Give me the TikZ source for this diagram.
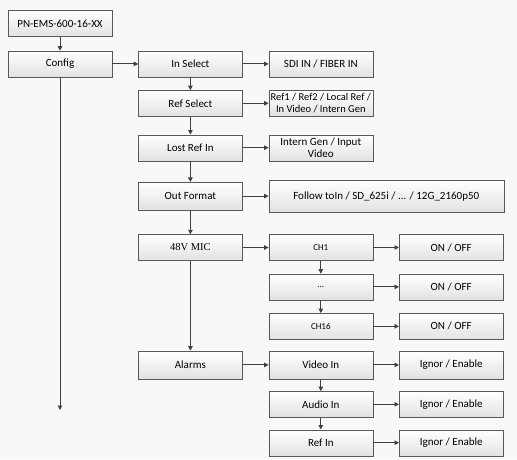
\documentclass[tikz,border=0pt]{standalone}
\usepackage{fontspec}
\setmainfont{Carlito}
\newfontfamily\micfont{Liberation Serif}
\usetikzlibrary{arrows.meta,positioning}
\definecolor{bgGray}{RGB}{248,248,248}
\definecolor{lineGray}{RGB}{64,64,64}
\definecolor{boxEdge}{RGB}{88,88,88}
\definecolor{boxLow}{RGB}{226,226,226}

\begin{document}
\begin{tikzpicture}[
    x=1pt, y=-1pt,
    node distance=13pt and 26pt,
    box/.style  ={rectangle, draw=boxEdge, top color=white, bottom color=boxLow,
                  minimum width=104pt, minimum height=26pt, inner sep=1pt,
                  align=center, font=\fontsize{11}{12}\selectfont},
    wide/.style ={box, minimum width=235pt, minimum height=32pt},
    tall/.style ={minimum height=28pt},
    small/.style={font=\fontsize{9}{11}\selectfont},
    arr/.style  ={-{Triangle[length=4.5pt,width=4.5pt]}, lineGray, line width=0.9pt}
]
\fill[bgGray] (0,0) rectangle (517,459);
\useasboundingbox (0,0) rectangle (517,459);

\node[box] (pn) at (60,23.5) {PN-EMS-600-16-XX};
\node[box, below=14pt of pn]   (config) {Config};
\coordinate (cfgend) at (60,410);

\node[box, right=of config]    (insel)   {In Select};
\node[box, right=of insel]     (inopt)   {SDI IN / FIBER IN};
\node[box, below=of insel]     (refsel)  {Ref Select};
\node[box, right=of refsel, font=\fontsize{10.5}{12}\selectfont] (refopt) {Ref1 / Ref2 / Local Ref /\\In Video / Intern Gen};
\node[box, below=18pt of refsel] (lostref) {Lost Ref In};
\node[box, right=of lostref]   (lostopt) {Intern Gen / Input\\Video};
\node[box, tall, below=21pt of lostref] (outfmt) {Out Format};
\node[wide, right=of outfmt]   (outopt)  {Follow toIn / SD\_625i / ... / 12G\_2160p50};

\node[box, below=24pt of outfmt, font=\micfont\fontsize{10.5}{12}\selectfont] (mic) {48V MIC};
\node[box, small, right=of mic]  (ch1)    {CH1};
\node[box, right=of ch1]         (ch1opt) {ON / OFF};
\node[box, small, below=of ch1]  (chdots) {...};
\node[box, right=of chdots]      (chdotsopt) {ON / OFF};
\node[box, small, below=of chdots] (ch16) {CH16};
\node[box, right=of ch16]        (ch16opt) {ON / OFF};

\node[box, tall, below=90pt of mic] (alarms) {Alarms};
\node[box, tall, right=of alarms] (vidin)    {Video In};
\node[box, tall, right=of vidin]  (vidinopt) {Ignor / Enable};
\node[box, below=12pt of vidin]   (audin)    {Audio In};
\node[box, right=of audin]        (audinopt) {Ignor / Enable};
\node[box, below=12pt of audin]   (refin)    {Ref In};
\node[box, right=of refin]        (refinopt) {Ignor / Enable};

\draw[arr] (pn) -- (config);
\draw[arr] (config) -- (cfgend);
\draw[arr] (config) -- (insel);

\draw[arr] (insel) -- (inopt);
\draw[arr] (refsel) -- (refopt);
\draw[arr] (lostref) -- (lostopt);
\draw[arr] (outfmt) -- (outopt);
\draw[arr] (mic) -- (ch1);
\draw[arr] (ch1) -- (ch1opt);
\draw[arr] (chdots) -- (chdotsopt);
\draw[arr] (ch16) -- (ch16opt);
\draw[arr] (alarms) -- (vidin);
\draw[arr] (vidin) -- (vidinopt);
\draw[arr] (audin) -- (audinopt);
\draw[arr] (refin) -- (refinopt);

\draw[arr] (insel) -- (refsel);
\draw[arr] (refsel) -- (lostref);
\draw[arr] (lostref) -- (outfmt);
\draw[arr] (outfmt) -- (mic);
\draw[arr] (mic) -- (alarms);
\draw[arr] (ch1) -- (chdots);
\draw[arr] (chdots) -- (ch16);
\draw[arr] (vidin) -- (audin);
\draw[arr] (audin) -- (refin);
\end{tikzpicture}
\end{document}
